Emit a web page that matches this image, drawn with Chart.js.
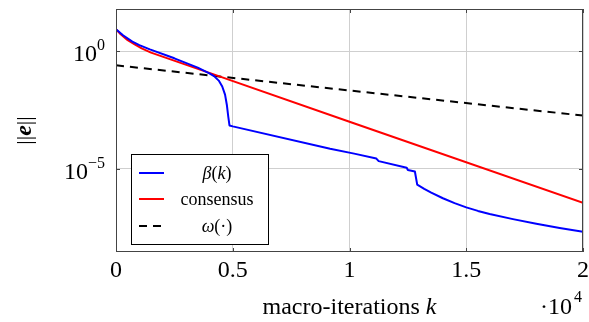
<!DOCTYPE html>
<html>
<head>
<meta charset="utf-8">
<script src="https://cdn.jsdelivr.net/npm/chart.js@4/dist/chart.umd.min.js"></script>
<style>
  body { margin: 0; background: #fff; }
</style>
</head>
<body>
<canvas id="myChart" width="589" height="322"></canvas>
<script>
// macro-iterations k, in units of 10^4
const betaK = [0, 0.03, 0.07, 0.1, 0.145, 0.25, 0.35, 0.4, 0.42, 0.44, 0.455, 0.467, 0.475, 0.481, 0.486,
  0.5, 0.917, 1.02, 1.115, 1.125, 1.245, 1.25, 1.28, 1.29, 1.32, 1.35, 1.4, 1.45, 1.5, 1.55, 1.6,
  1.7, 1.8, 1.9, 2];
// log10 of ||e||
const betaExp = [0.94, 0.68, 0.41, 0.26, 0.08, -0.3, -0.7, -0.94, -1.06, -1.25, -1.5, -1.85, -2.3, -2.8, -3.16,
  -3.2, -4.15, -4.36, -4.57, -4.68, -4.96, -5.06, -5.12, -5.68, -5.86, -6.02, -6.26, -6.47, -6.65, -6.8, -6.93,
  -7.15, -7.35, -7.53, -7.69];

const consK = [0, 0.02, 0.05, 0.08, 0.11, 0.15, 0.4, 1, 2];
const consExp = [0.94, 0.72, 0.47, 0.29, 0.12, -0.06, -0.92, -3.0, -6.45];

const omegaK = [0, 1, 2];
const omegaExp = [-0.6, -1.67, -2.74];

const xTicks = [0, 0.5, 1, 1.5, 2];
const yTickExp = [-5, 0];

const serif = '"Liberation Serif", "DejaVu Serif", serif';

function pts(ks, es) {
  return ks.map((k, i) => ({ x: k, y: Math.pow(10, es[i]) }));
}

// draw a list of [text, font] runs starting at x
function runs(ctx, parts, x, y) {
  parts.forEach(([t, f]) => {
    ctx.font = f;
    ctx.fillText(t, x, y);
    x += ctx.measureText(t).width;
  });
}
function runsWidth(ctx, parts) {
  let w = 0;
  parts.forEach(([t, f]) => { ctx.font = f; w += ctx.measureText(t).width; });
  return w;
}

const legendParts = [
  [['β', 'italic 18px ' + serif], ['(', '18px ' + serif], ['k', 'italic 18px ' + serif], [')', '18px ' + serif]],
  [['consensus', '18px ' + serif]],
  [['ω', 'italic 18px ' + serif], ['(·)', '18px ' + serif]],
];

const decor = {
  id: 'decor',
  afterDraw(chart) {
    const ctx = chart.ctx;
    const a = chart.chartArea;
    const xs = chart.scales.x, ys = chart.scales.y;
    ctx.save();

    // frame
    ctx.strokeStyle = '#444';
    ctx.lineWidth = 1;
    ctx.strokeRect(a.left + 0.5, a.top + 0.5, a.right - a.left - 1, a.bottom - a.top - 1);

    // inward tick marks
    ctx.beginPath();
    xTicks.forEach(v => {
      const px = Math.round(xs.getPixelForValue(v)) + 0.5;
      ctx.moveTo(px, a.bottom); ctx.lineTo(px, a.bottom - 4);
      ctx.moveTo(px, a.top); ctx.lineTo(px, a.top + 4);
    });
    yTickExp.forEach(e => {
      const py = Math.round(ys.getPixelForValue(Math.pow(10, e))) + 0.5;
      ctx.moveTo(a.left, py); ctx.lineTo(a.left + 4, py);
      ctx.moveTo(a.right, py); ctx.lineTo(a.right - 4, py);
    });
    ctx.stroke();

    ctx.fillStyle = '#000';
    ctx.textBaseline = 'alphabetic';

    // x tick labels
    ctx.font = '24px ' + serif;
    ctx.textAlign = 'center';
    xTicks.forEach(v => {
      ctx.fillText(String(v), xs.getPixelForValue(v), a.bottom + 25);
    });

    // y tick labels 10^e
    ctx.textAlign = 'left';
    yTickExp.forEach(e => {
      const py = ys.getPixelForValue(Math.pow(10, e));
      const sup = e < 0 ? '\u2212' + (-e) : String(e);
      ctx.font = '16px ' + serif;
      const sw = ctx.measureText(sup).width;
      ctx.font = '24px ' + serif;
      const bw = ctx.measureText('10').width;
      const right = 105;
      ctx.fillText('10', right - sw - bw, py + 10);
      ctx.font = '16px ' + serif;
      ctx.fillText(sup, right - sw, py - 1);
    });

    // x title
    const xt = [['macro-iterations ', '24px ' + serif], ['k', 'italic 24px ' + serif]];
    runs(ctx, xt, (a.left + a.right) / 2 - runsWidth(ctx, xt) / 2, 314);
    // ·10^4
    runs(ctx, [['\u00b710', '24px ' + serif]], 540, 314);
    ctx.font = '16px ' + serif;
    ctx.fillText('4', 574, 302);

    // y title
    ctx.save();
    ctx.translate(31, (a.top + a.bottom) / 2);
    ctx.rotate(-Math.PI / 2);
    const yt = [['||', '22px ' + serif], ['e', 'bold italic 24px ' + serif], ['||', '22px ' + serif]];
    runs(ctx, yt, -runsWidth(ctx, yt) / 2, 0);
    ctx.restore();

    // legend box
    const lx = 131, ly = 154, lw = 137, lh = 90;
    ctx.fillStyle = '#fff';
    ctx.fillRect(lx, ly, lw, lh);
    ctx.strokeStyle = '#000';
    ctx.strokeRect(lx + 0.5, ly + 0.5, lw, lh);
    const rows = [173, 199, 226];
    chart.data.datasets.forEach((ds, i) => {
      ctx.strokeStyle = ds.borderColor;
      ctx.lineWidth = 2;
      ctx.setLineDash(ds.borderDash || []);
      ctx.beginPath();
      ctx.moveTo(139, rows[i]);
      ctx.lineTo(164, rows[i]);
      ctx.stroke();
      ctx.setLineDash([]);
      ctx.fillStyle = '#000';
      const p = legendParts[i];
      runs(ctx, p, 217 - runsWidth(ctx, p) / 2, rows[i] + 6);
    });
    ctx.restore();
  }
};

new Chart('myChart', {
  type: 'line',
  data: {
    datasets: [
      { label: 'β(k)', data: pts(betaK, betaExp), borderColor: '#0000ff', borderWidth: 2 },
      { label: 'consensus', data: pts(consK, consExp), borderColor: '#ff0000', borderWidth: 2 },
      { label: 'ω(·)', data: pts(omegaK, omegaExp), borderColor: '#000000', borderWidth: 2, borderDash: [8, 6] },
    ],
  },
  options: {
    responsive: false,
    animation: false,
    parsing: false,
    layout: { padding: { top: 9, right: 6, left: 0, bottom: 0 } },
    elements: { point: { radius: 0 }, line: { tension: 0, fill: false, borderJoinStyle: 'round' } },
    plugins: { legend: { display: false }, tooltip: { enabled: false } },
    scales: {
      x: {
        type: 'linear',
        min: 0,
        max: 2,
        afterBuildTicks: s => { s.ticks = xTicks.map(v => ({ value: v })); },
        afterFit: s => { s.height = 70; },
        ticks: { display: false },
        grid: { color: '#cfcfcf', drawTicks: false },
        border: { display: false },
      },
      y: {
        type: 'logarithmic',
        min: Math.pow(10, -8.55),
        max: Math.pow(10, 1.8),
        afterBuildTicks: s => { s.ticks = yTickExp.map(e => ({ value: Math.pow(10, e) })); },
        afterFit: s => { s.width = 116; },
        ticks: { display: false },
        grid: { color: '#cfcfcf', drawTicks: false },
        border: { display: false },
      },
    },
  },
  plugins: [decor],
});
</script>
</body>
</html>
